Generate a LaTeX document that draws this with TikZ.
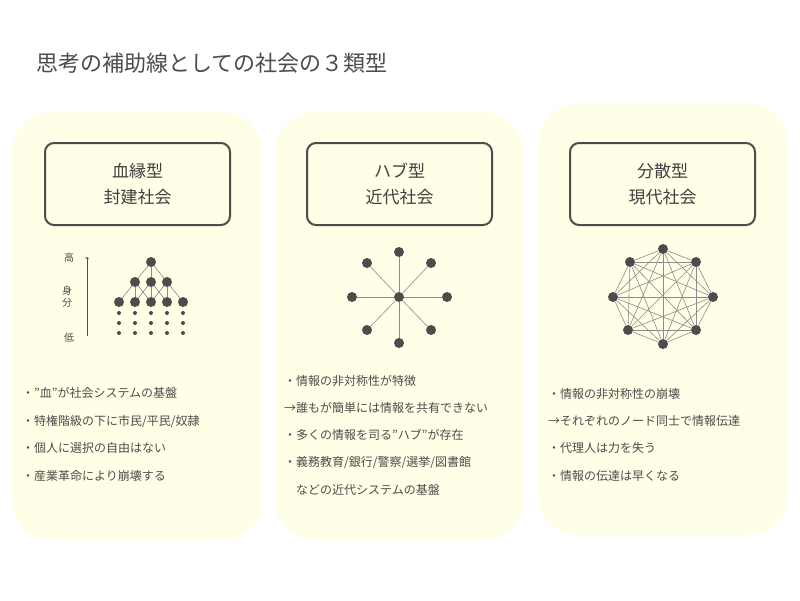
\documentclass[tikz,border=0pt]{standalone}
\usepackage{fontspec}
\setmainfont{Noto Sans CJK JP}
\begin{document}
\begin{tikzpicture}[x=1pt,y=-1pt,
  panel/.style={fill=yellow!10!white,draw=none,rounded corners=40pt},
  tbox/.style={draw=black!70,line width=2pt,rounded corners=9pt,fill=yellow!10!white},
  dot/.style={circle,fill=black!70,inner sep=0pt,minimum size=10pt},
  sdot/.style={circle,fill=black!70,inner sep=0pt,minimum size=4pt},
  edge/.style={draw=black!45,line width=0.6pt},
  bl/.style={anchor=west,font=\fontsize{12}{14}\selectfont,text=black!70,inner sep=0pt},
  tt/.style={font=\fontsize{17}{26}\selectfont,text=black!75,align=center}]
\useasboundingbox (0,0) rectangle (800,600);
\fill[white] (0,0) rectangle (800,600);
\node[anchor=west,font=\fontsize{22}{26}\selectfont,text=black!70,inner sep=0pt] (title) at (36,63) {思考の補助線としての社会の３類型};
\fill[panel] (12,112) rectangle (262,540);
\fill[panel] (275,112) rectangle (523,540);
\fill[panel] (538,104) rectangle (788,535);
\draw[tbox] (45,143) rectangle (230,225);
\draw[tbox] (307,143) rectangle (492,225);
\draw[tbox] (570,143) rectangle (755,225);
\node[tt] (t1) at (137.5,184) {血縁型\\封建社会};
\node[tt] (t2) at (399.5,184) {ハブ型\\近代社会};
\node[tt] (t3) at (662.5,184) {分散型\\現代社会};
% left hierarchy
\coordinate (ab) at (87,336); \coordinate (at) at (87,257);
\draw[black!70,line width=0.6pt,->] (ab) -- (at);
\node[font=\fontsize{10}{12}\selectfont,text=black!70] (hi) at (69,258) {高};
\node[font=\fontsize{10}{12}\selectfont,text=black!70,align=center] (mid) at (67,297) {身\\分};
\node[font=\fontsize{10}{12}\selectfont,text=black!70] (lo) at (69,338) {低};
\node[dot] (r0) at (151,262) {};
\node[dot] (m1) at (135,282) {};\node[dot] (m2) at (151,282) {};\node[dot] (m3) at (167,282) {};
\foreach \i/\x in {1/119,2/135,3/151,4/167,5/183}{\node[dot] (b\i) at (\x,302) {};
 \foreach \y in {313,323,333}{\node[sdot] at (\x,\y) {};}}
\foreach \a/\b in {r0/m1,r0/m2,r0/m3,m1/b1,m1/b2,m1/b3,m2/b2,m2/b3,m2/b4,m3/b3,m3/b4,m3/b5}{\draw[edge] (\a) -- (\b);}
% hub
\node[dot] (hc) at (399,297) {};
\foreach \i/\x/\y in {1/399/252,2/431/263,3/447/297,4/431/330,5/399/343,6/367/330,7/352/297,8/367/263}{\node[dot] (h\i) at (\x,\y) {};\draw[edge] (hc) -- (h\i);}
% mesh
\foreach \i/\x/\y in {1/663/249,2/696/262,3/713/297,4/696/330,5/663/344,6/628/330,7/613/297,8/630/262}{\node[dot] (n\i) at (\x,\y) {};}
\foreach \i in {1,...,8}{\foreach \j in {1,...,8}{\ifnum\i<\j \draw[edge] (n\i) -- (n\j);\fi}}
% bullets
\node[bl] (l1) at (22,393) {・”血”が社会システムの基盤};
\node[bl] (l2) at (22,421) {・特権階級の下に市民/平民/奴隷};
\node[bl] (l3) at (22,448) {・個人に選択の自由はない};
\node[bl] (l4) at (22,476) {・産業革命により崩壊する};
\node[bl] (c1) at (284,381) {・情報の非対称性が特徴};
\node[bl] (c2) at (284,408) {→誰もが簡単には情報を共有できない};
\node[bl] (c3) at (284,435) {・多くの情報を司る”ハブ”が存在};
\node[bl] (c4) at (284,463) {・義務教育/銀行/警察/選挙/図書館};
\node[bl] (c5) at (296,490) {などの近代システムの基盤};
\node[bl] (d1) at (548,394) {・情報の非対称性の崩壊};
\node[bl] (d2) at (548,421) {→それぞれのノード同士で情報伝達};
\node[bl] (d3) at (548,448) {・代理人は力を失う};
\node[bl] (d4) at (548,476) {・情報の伝達は早くなる};
\end{tikzpicture}
\end{document}
